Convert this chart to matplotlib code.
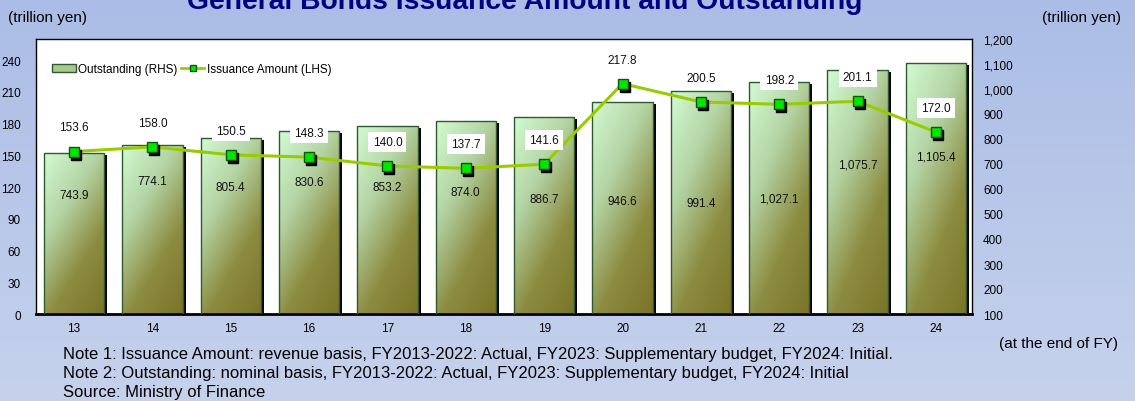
import numpy as np
import matplotlib
matplotlib.use("Agg")
import matplotlib.pyplot as plt
from matplotlib.colors import LinearSegmentedColormap
from matplotlib.patches import Rectangle, Patch
from matplotlib.lines import Line2D
import matplotlib.transforms as mtransforms

plt.rcParams['font.family'] = ['Liberation Sans', 'DejaVu Sans']

# ---- data ----
fiscal_years = ["13", "14", "15", "16", "17", "18", "19", "20", "21", "22", "23", "24"]
outstanding = [743.9, 774.1, 805.4, 830.6, 853.2, 874.0, 886.7, 946.6, 991.4, 1027.1, 1075.7, 1105.4]
issuance = [153.6, 158.0, 150.5, 148.3, 140.0, 137.7, 141.6, 217.8, 200.5, 198.2, 201.1, 172.0]
left_ticks = [0, 30, 60, 90, 120, 150, 180, 210, 240]
right_ticks = [100, 200, 300, 400, 500, 600, 700, 800, 900, 1000, 1100, 1200]

# layout: vertical position (RHS units) of the labels inside bars
bar_label_y = [576, 632, 608, 628, 608, 588, 560, 552, 544, 560, 696, 728]

W, H = 1135, 402
fig = plt.figure(figsize=(W / 100, H / 100), dpi=100)

# background gradient
bg = fig.add_axes([0, 0, 1, 1], zorder=-10)
grad = np.linspace(0, 1, 256).reshape(-1, 1)
bg_cmap = LinearSegmentedColormap.from_list("bg", ["#abbde6", "#c6d2ec"])
bg.imshow(grad, aspect='auto', cmap=bg_cmap, extent=[0, 1, 0, 1], origin='upper')
bg.set_axis_off()

x = np.arange(len(fiscal_years))
ax = fig.add_axes([36 / W, 1 - 315 / H, (972 - 36) / W, (315 - 40) / H])
ax.set_facecolor('white')

bar_w = 0.77
cmap = LinearSegmentedColormap.from_list("bar", ["#d2fad2", "#b4d4a4", "#8c8c40", "#7a7428"])
gy, gx = np.mgrid[0:1:100j, 0:1:100j]
garr = (gx * 0.45 + gy * 0.75)
shadow_tr = mtransforms.offset_copy(ax.transData, fig=fig, x=3, y=-2, units='dots')
for xi, v in zip(x, outstanding):
    sh = Rectangle((xi - bar_w / 2, 100), bar_w, v - 100, facecolor='black',
                   edgecolor='none', transform=shadow_tr, zorder=1)
    ax.add_patch(sh)
    rect = Rectangle((xi - bar_w / 2, 100), bar_w, v - 100, facecolor='none',
                     edgecolor='#2f5a2f', linewidth=1.0, zorder=3)
    ax.add_patch(rect)
    im = ax.imshow(garr, cmap=cmap, aspect='auto', origin='upper',
                   extent=[xi - bar_w / 2, xi + bar_w / 2, 100, v], zorder=2,
                   vmin=0, vmax=1.2)
    im.set_clip_path(rect)
ax.set_xlim(-0.485, 11.46)
ax.set_ylim(100, 1200)

for xi, v, ly in zip(x, outstanding, bar_label_y):
    ax.text(xi, ly, f"{v:,.1f}", ha='center', va='center', fontsize=8.5, color='#111111', zorder=6)

ax.set_xticks(x)
ax.set_xticklabels(fiscal_years, fontsize=8.5)
ax.tick_params(axis='x', length=0, pad=6)
for s in ax.spines.values():
    s.set_color('black')
    s.set_linewidth(1.0)
ax.spines['bottom'].set_linewidth(2.0)

# line on twin axis (left)
ax2 = ax.twinx()
ax2.set_ylim(0, 260)
ax2.yaxis.tick_left()
ax2.yaxis.set_label_position('left')
ax2.set_yticks(left_ticks)
ax2.set_yticklabels([str(t) for t in left_ticks], fontsize=8.5)
ax2.tick_params(axis='y', which='both', length=0, pad=11, left=True, right=False,
                labelleft=True, labelright=False)
for s in ax2.spines.values():
    s.set_visible(False)

ax.yaxis.tick_right()
ax.yaxis.set_label_position('right')
ax.set_yticks(right_ticks)
ax.set_yticklabels([f"{t:,}" for t in right_ticks], fontsize=8.5)
ax.tick_params(axis='y', which='both', length=0, pad=8, left=False, right=True,
               labelleft=False, labelright=True)

ax2.plot(x, issuance, color='#99cc00', linewidth=2.2, zorder=4)
mshadow_tr = mtransforms.offset_copy(ax2.transData, fig=fig, x=2, y=-3, units='dots')
ax2.plot(x, issuance, linestyle='none', marker='s', markersize=7.5, color='black',
         transform=mshadow_tr, zorder=5)
ax2.plot(x, issuance, linestyle='none', marker='s', markersize=7.5,
         markerfacecolor='#00e600', markeredgecolor='#115511', markeredgewidth=1, zorder=6)
for xi, v in zip(x, issuance):
    ax2.annotate(f"{v:.1f}", (xi, v), xytext=(0, 13), textcoords='offset points',
                 ha='center', va='bottom', fontsize=8.5, color='#111111', zorder=7,
                 bbox=dict(boxstyle='square,pad=0.35', facecolor='white', edgecolor='none'))

# legend
handles = [Patch(facecolor='#a8c890', edgecolor='#2f5a2f', linewidth=1.0),
           Line2D([0], [0], color='#99cc00', linewidth=2, marker='s', markersize=5,
                  markerfacecolor='#00e600', markeredgecolor='#115511')]
ax2.legend(handles, ["Outstanding (RHS)", "Issuance Amount (LHS)"], loc='upper left',
           bbox_to_anchor=(0.012, 0.93), ncol=2, frameon=False, fontsize=8.5,
           handlelength=2.0, handleheight=0.6, handletextpad=0.2, columnspacing=0.3,
           borderaxespad=0)

# texts
fig.text(525 / W, 1 - 9 / H, "General Bonds Issuance Amount and Outstanding", ha='center',
         va='baseline', fontsize=20.3, fontweight='bold', color='#000080')
fig.text(8 / W, 1 - 18 / H, "(trillion yen)", ha='left', va='center', fontsize=11)
fig.text(1121 / W, 1 - 18 / H, "(trillion yen)", ha='right', va='center', fontsize=11)
fig.text(1118 / W, 1 - 344 / H, "(at the end of FY)", ha='right', va='center', fontsize=11)
notes = ["Note 1: Issuance Amount: revenue basis, FY2013-2022: Actual, FY2023: Supplementary budget, FY2024: Initial.",
         "Note 2: Outstanding: nominal basis, FY2013-2022: Actual, FY2023: Supplementary budget, FY2024: Initial",
         "Source: Ministry of Finance"]
for i, n in enumerate(notes):
    fig.text(63 / W, 1 - (355 + 19 * i) / H, n, ha='left', va='center', fontsize=12)

fig.savefig("out.png", dpi=100)
